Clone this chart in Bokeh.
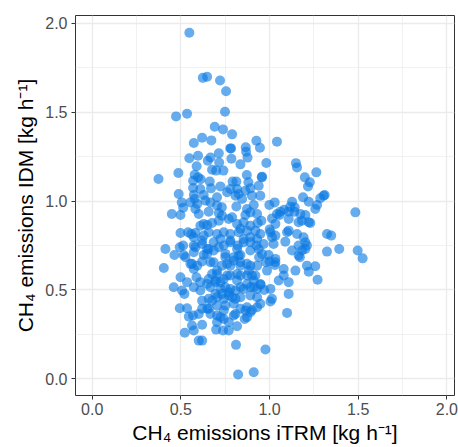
from bokeh.plotting import figure
from bokeh.models import Range1d, FixedTicker, PrintfTickFormatter, ColumnDataSource
from bokeh.embed import file_html
from bokeh.resources import INLINE

# (iTRM, IDM) pairs, grouped by region
upper_points = [
    (0.548, 1.948), (0.624, 1.694), (0.648, 1.700), (0.721, 1.679), (0.755, 1.619),
    (0.535, 1.492), (0.473, 1.477), (0.749, 1.503), (0.691, 1.419), (0.738, 1.404),
    (0.789, 1.376), (0.620, 1.357), (0.573, 1.327), (0.672, 1.342), (0.779, 1.297),
    (0.783, 1.297), (0.866, 1.303), (0.926, 1.340), (0.946, 1.301), (1.042, 1.335),
    (0.714, 1.269), (0.597, 1.256), (0.548, 1.241), (0.667, 1.246), (0.652, 1.228),
    (0.785, 1.239), (0.868, 1.278), (0.876, 1.245), (0.836, 1.207), (0.982, 1.215),
    (0.589, 1.196), (0.716, 1.218), (0.676, 1.177), (0.699, 1.172), (0.740, 1.172),
    (0.486, 1.158), (0.374, 1.125), (0.578, 1.149), (0.597, 1.134), (0.612, 1.123),
    (0.569, 1.115), (0.663, 1.110), (0.792, 1.110), (0.813, 1.110), (0.872, 1.147),
    (0.881, 1.106), (0.956, 1.134), (0.958, 1.138), (1.149, 1.214), (1.155, 1.190),
    (1.199, 1.134), (1.264, 1.162), (1.227, 1.106), (1.217, 1.083),
]

mid_left_points = [
    (0.569, 1.074), (0.610, 1.068), (0.670, 1.072), (0.723, 1.083), (0.779, 1.068),
    (0.817, 1.068), (0.826, 1.040), (0.864, 1.059), (0.892, 1.072), (0.939, 1.087),
    (0.488, 1.040), (0.573, 1.035), (0.578, 1.012), (0.629, 1.035), (0.638, 1.003),
    (0.704, 1.022), (0.761, 1.050), (0.808, 1.031), (0.845, 1.012), (0.901, 1.031),
    (0.505, 0.993), (0.554, 0.993), (0.592, 0.984), (0.667, 0.993), (0.704, 0.975),
    (0.731, 0.965), (0.813, 0.970), (0.873, 0.956), (0.911, 0.978), (0.449, 0.928),
    (0.498, 0.922), (0.513, 0.963), (0.582, 0.956), (0.601, 0.928), (0.657, 0.941),
    (0.714, 0.933), (0.732, 0.918), (0.789, 0.909), (0.864, 0.922), (0.892, 0.937),
    (0.930, 0.928), (0.610, 0.862), (0.629, 0.872), (0.648, 0.866), (0.676, 0.877),
    (0.714, 0.890), (0.770, 0.900), (0.817, 0.872), (0.854, 0.881), (0.892, 0.862),
    (0.933, 0.877), (0.498, 0.821), (0.558, 0.815), (0.582, 0.821), (0.629, 0.806),
    (0.657, 0.825), (0.704, 0.815), (0.742, 0.825), (0.779, 0.815), (0.826, 0.825),
    (0.873, 0.834), (0.892, 0.797), (0.930, 0.787), (0.413, 0.731), (0.513, 0.750),
    (0.573, 0.750), (0.620, 0.759), (0.648, 0.731), (0.685, 0.768), (0.742, 0.750),
    (0.779, 0.768), (0.821, 0.750), (0.854, 0.768), (0.892, 0.768), (0.926, 0.750),
    (0.464, 0.697), (0.516, 0.697), (0.573, 0.712), (0.629, 0.697), (0.685, 0.722),
    (0.751, 0.703), (0.798, 0.684), (0.836, 0.697), (0.892, 0.722), (0.939, 0.731),
    (0.494, 0.740), (0.541, 0.825), (0.526, 0.684),
]

mid_right_points = [
    (0.948, 1.031), (1.189, 1.022), (1.221, 0.997), (1.268, 0.978), (1.258, 0.956),
    (1.286, 1.016), (1.305, 1.031), (1.311, 1.035), (0.999, 0.978), (1.029, 0.993),
    (1.127, 0.997), (1.142, 0.965), (1.082, 0.952), (1.061, 0.941), (1.108, 0.941),
    (1.042, 0.928), (1.014, 0.903), (0.954, 0.890), (1.033, 0.872), (1.005, 0.825),
    (1.033, 0.806), (1.174, 0.928), (1.202, 0.922), (1.183, 0.890), (1.164, 0.881),
    (1.221, 0.881), (1.230, 0.877), (1.108, 0.900), (1.108, 0.834), (1.099, 0.825),
    (1.155, 0.815), (1.089, 0.772), (1.023, 0.759), (0.967, 0.759), (1.192, 0.797),
    (1.202, 0.768), (1.164, 0.750), (1.211, 0.750), (1.183, 0.722), (1.127, 0.722),
    (1.164, 0.694), (1.202, 0.731), (0.958, 0.703), (0.995, 0.697), (1.033, 0.675),
    (1.324, 0.815), (1.348, 0.806), (1.484, 0.937), (1.324, 0.716), (1.393, 0.731),
    (1.497, 0.722), (1.525, 0.678), (0.948, 0.815), (1.001, 0.841), (1.014, 0.797),
    (1.171, 0.684), (0.979, 0.656), (0.941, 0.684), (1.117, 0.969), (1.140, 0.941),
    (1.057, 0.922),
]

low_left_points = [
    (0.404, 0.624), (0.563, 0.647), (0.592, 0.637), (0.620, 0.660), (0.667, 0.656),
    (0.761, 0.647), (0.798, 0.665), (0.836, 0.656), (0.892, 0.637), (0.930, 0.637),
    (0.498, 0.572), (0.588, 0.572), (0.535, 0.544), (0.657, 0.562), (0.704, 0.590),
    (0.695, 0.544), (0.742, 0.562), (0.779, 0.581), (0.817, 0.590), (0.873, 0.581),
    (0.920, 0.581), (0.460, 0.515), (0.507, 0.497), (0.520, 0.478), (0.573, 0.515),
    (0.610, 0.497), (0.667, 0.515), (0.723, 0.506), (0.770, 0.487), (0.808, 0.497),
    (0.854, 0.506), (0.892, 0.515), (0.930, 0.506), (0.620, 0.440), (0.657, 0.450),
    (0.704, 0.459), (0.742, 0.450), (0.789, 0.459), (0.836, 0.459), (0.892, 0.469),
    (0.930, 0.459), (0.494, 0.397), (0.535, 0.397), (0.620, 0.394), (0.657, 0.394),
    (0.704, 0.412), (0.751, 0.412), (0.798, 0.422), (0.836, 0.394), (0.873, 0.403),
    (0.892, 0.375), (0.930, 0.403), (0.545, 0.350), (0.569, 0.356), (0.601, 0.365),
    (0.667, 0.365), (0.723, 0.347), (0.742, 0.337), (0.798, 0.356), (0.873, 0.347),
    (0.563, 0.300), (0.620, 0.304), (0.704, 0.319), (0.770, 0.319), (0.817, 0.296),
    (0.522, 0.259), (0.573, 0.272), (0.699, 0.277), (0.738, 0.272), (0.770, 0.272),
    (0.601, 0.215), (0.620, 0.215), (0.811, 0.191), (0.823, 0.024), (0.911, 0.037),
    (0.610, 0.544), (0.648, 0.534), (0.860, 0.337), (0.742, 0.384),
]

low_right_points = [
    (0.986, 0.609), (1.033, 0.656), (1.080, 0.618), (1.080, 0.581), (1.052, 0.553),
    (1.108, 0.544), (1.146, 0.609), (1.211, 0.637), (1.221, 0.603), (1.258, 0.634),
    (1.271, 0.558), (1.005, 0.506), (1.014, 0.450), (1.005, 0.435), (1.108, 0.478),
    (1.099, 0.371), (0.977, 0.165), (1.000, 0.660), (1.030, 0.641), (0.970, 0.500),
    (0.950, 0.530), (0.948, 0.422),
]

core_points = [
    (0.685, 0.656), (0.732, 0.637), (0.779, 0.637), (0.836, 0.637), (0.873, 0.647),
    (0.883, 0.609), (0.901, 0.581), (0.911, 0.553), (0.836, 0.581), (0.817, 0.553),
    (0.761, 0.581), (0.723, 0.544), (0.695, 0.553), (0.676, 0.590), (0.751, 0.515),
    (0.779, 0.506), (0.836, 0.515), (0.873, 0.534), (0.911, 0.515), (0.948, 0.534),
    (0.704, 0.609), (0.573, 0.618), (0.732, 0.478), (0.770, 0.469), (0.808, 0.450),
    (0.695, 0.478), (0.676, 0.440), (0.704, 0.356), (0.864, 0.384), (0.901, 0.387),
    (0.808, 0.365), (0.648, 0.394), (0.751, 0.684), (0.648, 0.703), (0.826, 0.693),
    (0.554, 0.647), (0.920, 0.834), (0.836, 0.844), (0.854, 0.787), (0.779, 0.778),
    (0.817, 0.731), (0.723, 0.787), (0.620, 0.778), (0.573, 0.797), (0.582, 0.740),
    (0.657, 0.731), (0.714, 0.740),
]

all_points = (upper_points + mid_left_points + mid_right_points
              + low_left_points + low_right_points + core_points)
itrm = [pt[0] for pt in all_points]
idm = [pt[1] for pt in all_points]

major_ticks = [0.0, 0.5, 1.0, 1.5, 2.0]
minor_ticks = [0.25, 0.75, 1.25, 1.75]

x_title = "CH\u2084 emissions iTRM [kg h\u207b\u00b9]"
y_title = "CH\u2084 emissions IDM [kg h\u207b\u00b9]"

src = ColumnDataSource(data=dict(x=itrm, y=idm))

p = figure(width=458, height=447, output_backend="svg", toolbar_location=None,
           x_range=Range1d(-0.094, 2.043), y_range=Range1d(-0.094, 2.045),
           min_border_left=75, min_border_right=4, min_border_top=15,
           min_border_bottom=52)

p.scatter(x="x", y="y", source=src, size=10, fill_color="#0979E2",
          fill_alpha=0.62, line_color=None)

p.background_fill_color = "white"
p.border_fill_color = "white"
p.outline_line_color = "#333333"
p.outline_line_width = 1

for ax in (p.xaxis[0], p.yaxis[0]):
    ax.ticker = FixedTicker(ticks=major_ticks, minor_ticks=minor_ticks)
    ax.formatter = PrintfTickFormatter(format="%.1f")
    ax.axis_line_color = None
    ax.major_tick_line_color = "#333333"
    ax.major_tick_out = 4
    ax.major_tick_in = 0
    ax.minor_tick_line_color = None
    ax.major_label_text_color = "#4D4D4D"
    ax.major_label_text_font = "Liberation Sans"
    ax.major_label_text_font_size = "16px"
    ax.axis_label_text_font = "Liberation Sans"
    ax.axis_label_text_font_size = "21px"
    ax.axis_label_text_font_style = "normal"
    ax.axis_label_text_color = "black"

p.xaxis.axis_label = x_title
p.yaxis.axis_label = y_title
p.xaxis.major_label_standoff = 3
p.yaxis.major_label_standoff = 4
p.xaxis.axis_label_standoff = 3
p.yaxis.axis_label_standoff = 5

for g in (p.xgrid[0], p.ygrid[0]):
    g.grid_line_color = "#EBEBEB"
    g.grid_line_width = 1.3
    g.minor_grid_line_color = "#EBEBEB"
    g.minor_grid_line_width = 0.7

open("out.html", "w").write(file_html(p, INLINE))
